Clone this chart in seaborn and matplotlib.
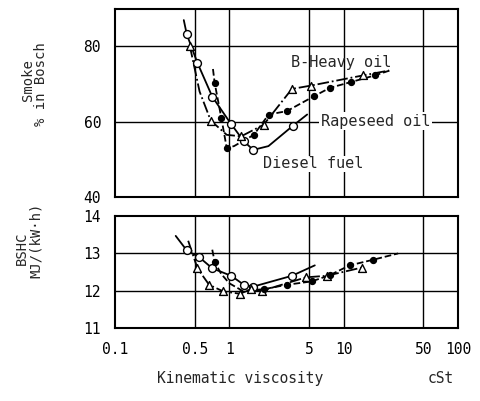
import numpy as np
import pandas as pd
import matplotlib
matplotlib.use("Agg")
import matplotlib.pyplot as plt
import seaborn as sns

# ---- data ----
# Smoke (top panel)
smoke_diesel_x = [0.425, 0.527, 0.711, 1.03, 1.34, 1.62, 3.6]
smoke_diesel_y = [83.2, 75.6, 66.6, 59.5, 54.8, 52.5, 58.9]
smoke_diesel_curve_x = [0.40, 0.425, 0.527, 0.711, 1.03, 1.34, 1.62, 2.2, 3.6, 4.8]
smoke_diesel_curve_y = [87.0, 83.2, 75.6, 66.6, 59.5, 54.8, 52.5, 53.5, 58.9, 61.9]

smoke_heavy_x = [0.452, 0.688, 1.27, 2.0, 3.53, 5.2, 14.8]
smoke_heavy_y = [80.1, 60.3, 56.1, 59.2, 68.7, 69.6, 72.3]
smoke_heavy_curve_x = [0.452, 0.55, 0.688, 0.95, 1.27, 2.0, 3.53, 5.2, 14.8, 25.0]
smoke_heavy_curve_y = [80.1, 68.0, 60.3, 56.5, 56.1, 59.2, 68.7, 69.6, 72.3, 73.6]

smoke_rape_x = [0.745, 0.852, 0.95, 1.64, 2.21, 3.19, 5.46, 7.6, 11.5, 18.8]
smoke_rape_y = [70.3, 61.0, 53.0, 56.5, 61.9, 62.8, 66.7, 69.0, 70.5, 72.3]
smoke_rape_curve_x = [0.72, 0.745, 0.852, 0.95, 1.1, 1.64, 2.21, 3.19, 5.46, 7.6, 11.5, 18.8, 25.3]
smoke_rape_curve_y = [74.0, 70.3, 61.0, 53.0, 53.5, 56.5, 61.9, 62.8, 66.7, 69.0, 70.5, 72.3, 73.6]

# BSHC (bottom panel)
bshc_diesel_x = [0.425, 0.545, 0.711, 1.04, 1.34, 1.62, 3.53]
bshc_diesel_y = [13.08, 12.9, 12.6, 12.4, 12.16, 12.11, 12.4]
bshc_diesel_curve_x = [0.34, 0.425, 0.545, 0.711, 1.04, 1.34, 1.62, 3.53, 5.6]
bshc_diesel_curve_y = [13.47, 13.08, 12.9, 12.6, 12.4, 12.16, 12.11, 12.4, 12.68]

bshc_heavy_x = [0.527, 0.666, 0.887, 1.24, 1.55, 1.94, 4.7, 7.1, 14.4]
bshc_heavy_y = [12.6, 12.16, 11.98, 11.92, 12.04, 12.0, 12.36, 12.4, 12.62]
bshc_heavy_curve_x = [0.437, 0.527, 0.666, 0.887, 1.24, 1.55, 1.94, 4.7, 7.1, 14.4]
bshc_heavy_curve_y = [13.34, 12.6, 12.16, 11.98, 11.92, 12.04, 12.0, 12.36, 12.4, 12.62]

bshc_rape_x = [0.745, 2.0, 3.19, 5.27, 7.6, 11.3, 18.1]
bshc_rape_y = [12.77, 12.04, 12.16, 12.25, 12.42, 12.68, 12.83]
bshc_rape_curve_x = [0.71, 0.745, 0.85, 1.0, 1.3, 2.0, 3.19, 5.27, 7.6, 11.3, 18.1, 30.0]
bshc_rape_curve_y = [13.1, 12.77, 12.45, 12.2, 12.0, 12.04, 12.16, 12.25, 12.42, 12.68, 12.83, 13.0]

x_ticks = [0.1, 0.5, 1, 5, 10, 50, 100]
x_tick_labels = ["0.1", "0.5", "1", "5", "10", "50", "100"]
smoke_ticks = [40, 60, 80]
bshc_ticks = [11, 12, 13, 14]

# ---- style ----
sns.set_style("white")
plt.rcParams['font.family'] = ['DejaVu Sans Mono', 'DejaVu Sans']
plt.rcParams['font.size'] = 10

fig = plt.figure(figsize=(4.81, 4.01), dpi=100)
ax1 = fig.add_axes([0.239, 0.509, 0.713, 0.469])
ax2 = fig.add_axes([0.239, 0.182, 0.713, 0.279])

def draw(ax, series):
    for cx, cy, mx, my, ls, marker, face, size in series:
        d = pd.DataFrame({"x": cx, "y": cy})
        sns.lineplot(data=d, x="x", y="y", ax=ax, color="black", lw=1.3,
                     linestyle=ls, sort=False, estimator=None)
        m = pd.DataFrame({"x": mx, "y": my})
        sns.scatterplot(data=m, x="x", y="y", ax=ax, marker=marker, s=size,
                        facecolor=face, edgecolor="black", linewidth=1.0, zorder=5)

draw(ax1, [
    (smoke_diesel_curve_x, smoke_diesel_curve_y, smoke_diesel_x, smoke_diesel_y, "-", "o", "white", 32),
    (smoke_heavy_curve_x, smoke_heavy_curve_y, smoke_heavy_x, smoke_heavy_y, "-.", "^", "white", 32),
    (smoke_rape_curve_x, smoke_rape_curve_y, smoke_rape_x, smoke_rape_y, "--", "o", "black", 18),
])
draw(ax2, [
    (bshc_diesel_curve_x, bshc_diesel_curve_y, bshc_diesel_x, bshc_diesel_y, "-", "o", "white", 32),
    (bshc_heavy_curve_x, bshc_heavy_curve_y, bshc_heavy_x, bshc_heavy_y, "-.", "^", "white", 32),
    (bshc_rape_curve_x, bshc_rape_curve_y, bshc_rape_x, bshc_rape_y, "--", "o", "black", 18),
])

for ax in (ax1, ax2):
    ax.set_xscale("log")
    ax.set_xlim(0.1, 100)
    ax.set_xlabel("")
    ax.set_ylabel("")
    ax.minorticks_off()
    for v in [0.5, 1, 5, 10, 50]:
        ax.axvline(v, color="black", lw=1.0, zorder=1)
    for s in ax.spines.values():
        s.set_color("black")
        s.set_linewidth(1.5)
    ax.tick_params(axis="both", direction="in", length=0, pad=10, labelsize=10.5, colors="black")

ax1.set_ylim(40, 90)
ax1.set_yticks(smoke_ticks)
ax1.set_xticks(x_ticks)
ax1.set_xticklabels([])
for v in [60, 80]:
    ax1.axhline(v, color="black", lw=1.0, zorder=1)

ax2.set_ylim(11, 14)
ax2.set_yticks(bshc_ticks)
ax2.set_xticks(x_ticks)
ax2.set_xticklabels(x_tick_labels)
for v in [12, 13]:
    ax2.axhline(v, color="black", lw=1.0, zorder=1)

ax1.text(3.5, 75.7, "B-Heavy oil", fontsize=11, va="center", ha="left")
ax1.text(6.3, 60.1, "Rapeseed oil", fontsize=11, va="center", ha="left",
         bbox=dict(facecolor="white", edgecolor="none", pad=1))
ax1.text(1.96, 48.8, "Diesel fuel", fontsize=11, va="center", ha="left",
         bbox=dict(facecolor="white", edgecolor="none", pad=0.5))

fig.text(0.058, 0.80, "Smoke", rotation=90, ha="center", va="center", fontsize=10)
fig.text(0.085, 0.79, "% in Bosch", rotation=90, ha="center", va="center", fontsize=10)
fig.text(0.046, 0.38, "BSHC", rotation=90, ha="center", va="center", fontsize=10)
fig.text(0.075, 0.40, "MJ/(kW·h)", rotation=90, ha="center", va="center", fontsize=10)
fig.text(0.50, 0.057, "Kinematic viscosity", ha="center", va="center", fontsize=10.5)
fig.text(0.917, 0.057, "cSt", ha="center", va="center", fontsize=10.5)

fig.savefig("out.png", dpi=100)
